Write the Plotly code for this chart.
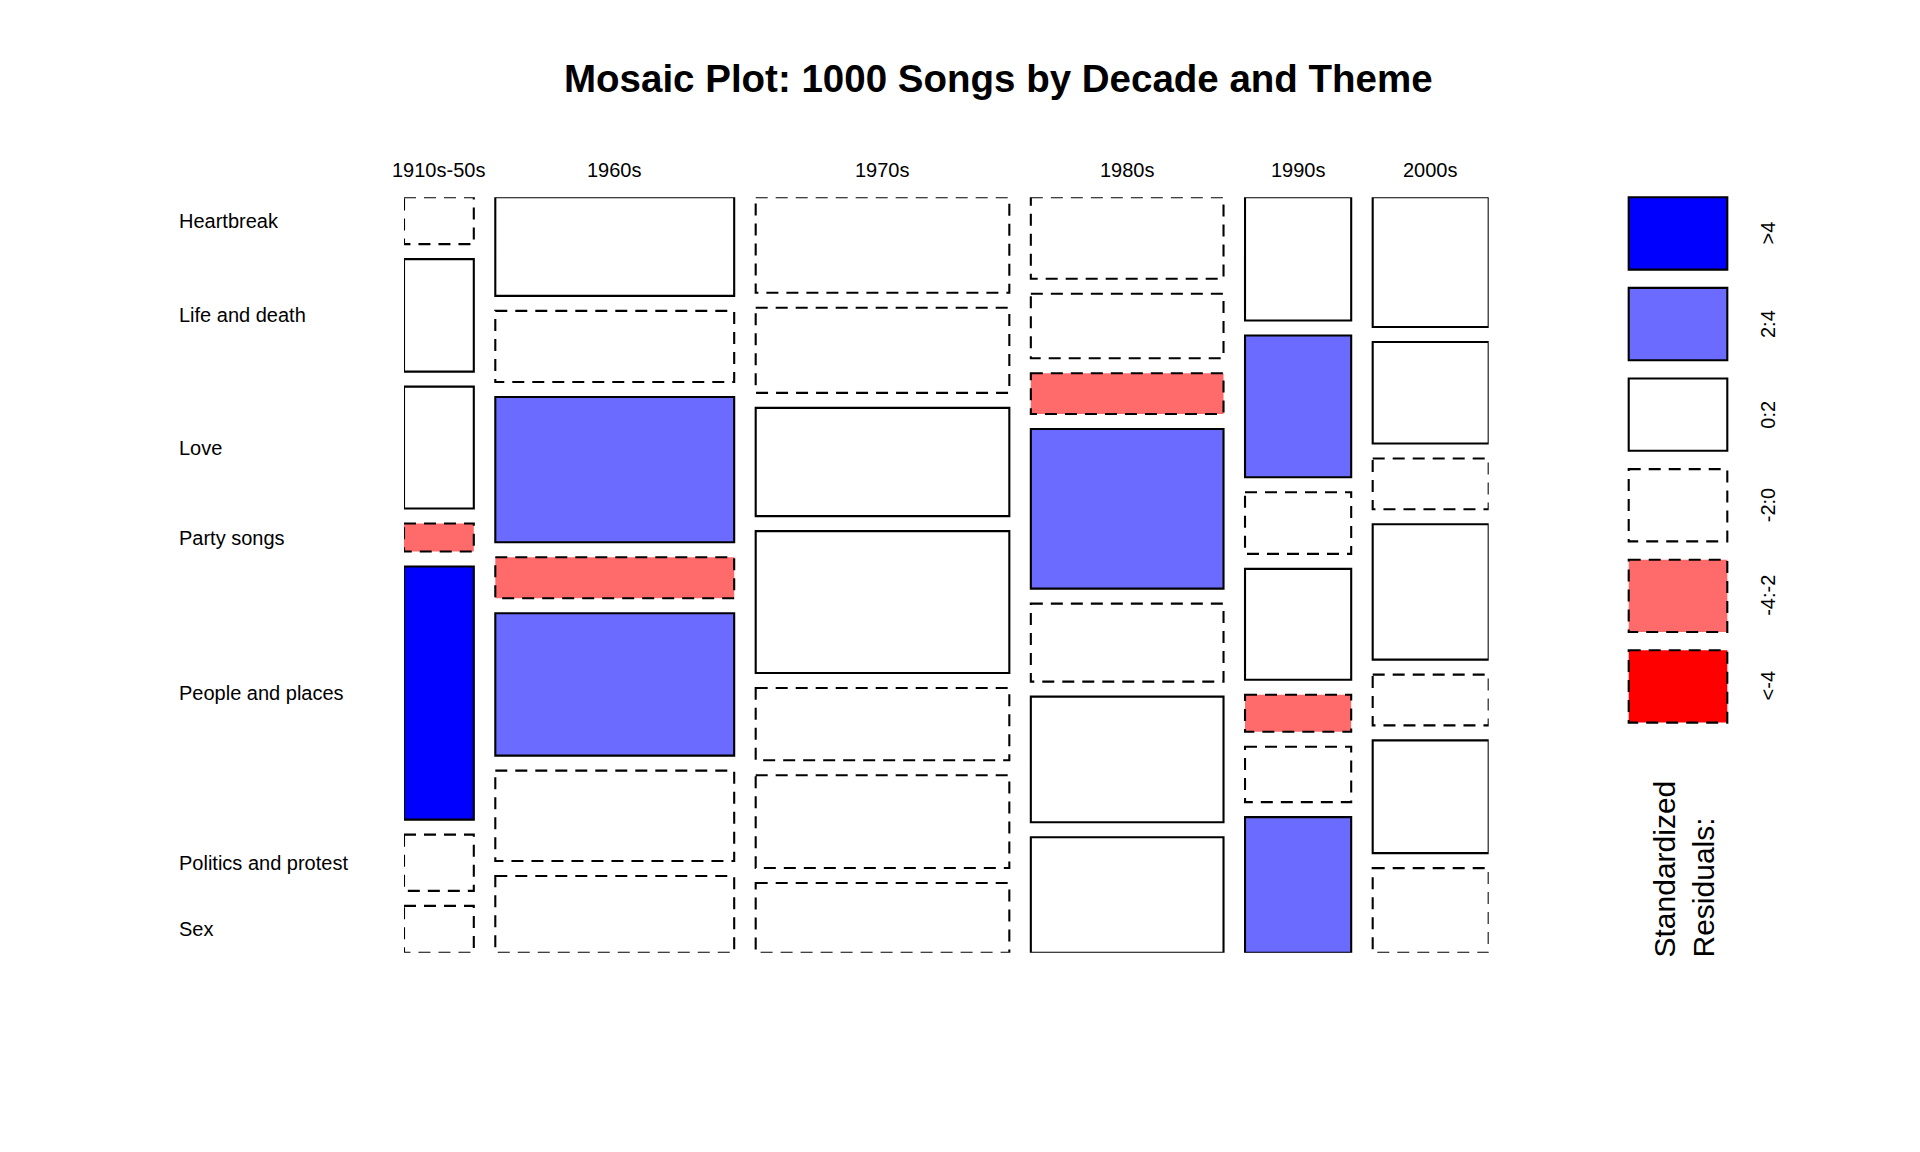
import numpy as np
import plotly.graph_objects as go

# ---------------- data ----------------
decades = ["1910s-50s", "1960s", "1970s", "1980s", "1990s", "2000s"]
themes = ["Heartbreak", "Life and death", "Love", "Party songs",
          "People and places", "Politics and protest", "Sex"]

heartbreak           = [5, 36, 37, 24, 20, 23]
life_and_death       = [12, 26, 33, 19, 23, 18]
love                 = [13, 53, 42, 12, 10, 9]
party_songs          = [3, 15, 55, 47, 18, 24]
people_and_places    = [27, 52, 28, 23, 6, 9]
politics_and_protest = [6, 33, 36, 37, 9, 20]
sex                  = [5, 28, 27, 34, 22, 15]

legend_labels = [">4", "2:4", "0:2", "-2:0", "-4:-2", "<-4"]

title_text = "Mosaic Plot: 1000 Songs by Decade and Theme"
legend_title = "Standardized<br>Residuals:"

# ---------------- styles ----------------
W, H = 1920, 1152
PL, PR, PT, PB = 404.0, 1488.7, 197.3, 952.7
GAP_X = 21.5 / (PR - PL)
GAP_Y = 15.0 / (PB - PT)
FONT = "Liberation Sans, Arial, Helvetica, sans-serif"
shade_cols = ["#0000FF", "#6B6BFF", "#FFFFFF", "#FFFFFF", "#FF6B6B", "#FF0000"]
shade_dashed = [False, False, False, True, True, True]
DASH = "12px,8px"
LW = 2.1

counts = np.array([heartbreak, life_and_death, love, party_songs,
                   people_and_places, politics_and_protest, sex], dtype=float)
n_rows, n_cols = counts.shape
col_tot = counts.sum(axis=0)
row_tot = counts.sum(axis=1)
total = counts.sum()
expected = np.outer(row_tot, col_tot) / total
resid = (counts - expected) / np.sqrt(expected)


def shade_index(r):
    if r > 4:
        return 0
    if r > 2:
        return 1
    if r >= 0:
        return 2
    if r > -2:
        return 3
    if r > -4:
        return 4
    return 5


def px2paper_x(px):
    return px / W


def px2paper_y(py):
    return 1 - py / H


fig = go.Figure()
fig.add_trace(go.Scatter(x=[0, 1], y=[0, 1], mode="markers",
                         marker=dict(opacity=0), hoverinfo="skip",
                         showlegend=False))

shapes = []
annotations = []

ux = (1 - (n_cols - 1) * GAP_X) / total
x_left = 0.0
col_centers = []
first_col_centers = []
for j in range(n_cols):
    wj = col_tot[j] * ux
    x0, x1 = x_left, x_left + wj
    col_centers.append((x0 + x1) / 2)
    uy = (1 - (n_rows - 1) * GAP_Y) / col_tot[j]
    y_top = 0.0
    for i in range(n_rows):
        hij = counts[i, j] * uy
        y0, y1 = y_top, y_top + hij
        k = shade_index(resid[i, j])
        shapes.append(dict(
            type="rect", xref="x", yref="y", x0=x0, x1=x1, y0=y0, y1=y1,
            fillcolor=shade_cols[k],
            line=dict(color="black", width=LW,
                      dash=DASH if shade_dashed[k] else "solid"),
            layer="above"))
        if j == 0:
            first_col_centers.append((y0 + y1) / 2)
        y_top = y1 + GAP_Y
    x_left = x1 + GAP_X

# column labels
for j, d in enumerate(decades):
    annotations.append(dict(
        text=d, x=col_centers[j], xref="x", y=px2paper_y(170), yref="paper",
        xanchor="center", yanchor="middle", showarrow=False,
        font=dict(family=FONT, size=20, color="black")))

# row labels
for i, t in enumerate(themes):
    annotations.append(dict(
        text=t, x=px2paper_x(177), xref="paper", y=first_col_centers[i], yref="y",
        xanchor="left", yanchor="middle", showarrow=False,
        font=dict(family=FONT, size=20, color="black")))

# title
annotations.append(dict(
    text="<b>" + title_text + "</b>", x=px2paper_x(998), xref="paper",
    y=px2paper_y(79), yref="paper", xanchor="center", yanchor="middle",
    showarrow=False, font=dict(family=FONT, size=38.5, color="black")))

# legend
LX0, LX1 = 1628.7, 1727.3
LTOP, LH, LSTEP = 197.3, 72.3, 90.6
for k, lab in enumerate(legend_labels):
    ty = LTOP + k * LSTEP
    shapes.append(dict(
        type="rect", xref="paper", yref="paper",
        x0=px2paper_x(LX0), x1=px2paper_x(LX1),
        y0=px2paper_y(ty), y1=px2paper_y(ty + LH),
        fillcolor=shade_cols[k],
        line=dict(color="black", width=LW,
                  dash=DASH if shade_dashed[k] else "solid")))
    annotations.append(dict(
        text=lab, x=px2paper_x(1768), xref="paper",
        y=px2paper_y(ty + LH / 2), yref="paper",
        xanchor="center", yanchor="middle", textangle=-90, showarrow=False,
        font=dict(family=FONT, size=20, color="black")))

annotations.append(dict(
    text=legend_title, x=px2paper_x(1683), xref="paper",
    y=px2paper_y(960), yref="paper", xanchor="center", yanchor="bottom",
    textangle=-90, align="left", showarrow=False,
    font=dict(family=FONT, size=30, color="black")))

fig.update_layout(
    width=W, height=H,
    margin=dict(l=0, r=0, t=0, b=0),
    paper_bgcolor="white", plot_bgcolor="white",
    showlegend=False,
    xaxis=dict(domain=[PL / W, PR / W], range=[0, 1], visible=False,
               fixedrange=True),
    yaxis=dict(domain=[1 - PB / H, 1 - PT / H], range=[1, 0], visible=False,
               fixedrange=True),
    shapes=shapes,
    annotations=annotations,
)

fig.write_html("out.html")
